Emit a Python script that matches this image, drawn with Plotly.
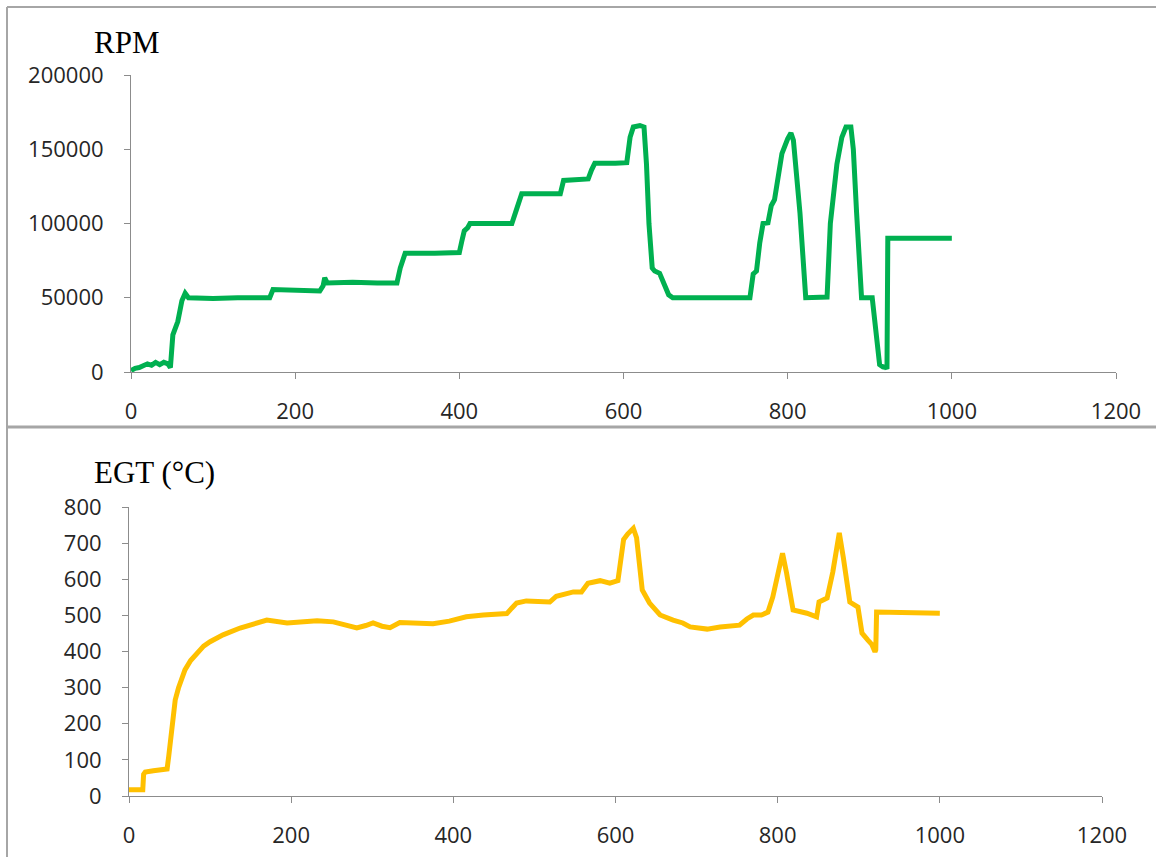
import plotly.graph_objects as go

# ---- data ----
rpm_time = [0, 5, 10, 15, 20, 25, 30, 35, 40, 45, 48, 51, 54, 57, 62, 66, 70, 100, 130, 169,
            173, 200, 230, 234, 236, 239, 270, 300, 324, 328, 334, 370, 400, 403, 406, 410, 413,
            440, 464, 470, 476, 500, 523, 527, 540, 557, 561, 565, 590, 604, 608, 612, 620, 625,
            628, 631, 635, 638, 644, 650, 655, 660, 700, 754, 758, 762, 766, 770, 776, 780, 784,
            788, 793, 800, 804, 807, 815, 822, 835, 848, 852, 856, 860, 866, 871, 877, 880, 884,
            890, 903, 905, 909, 912, 916, 920, 921, 922, 950, 980, 1000]
rpm_value = [1000, 2500, 3000, 4000, 5500, 4500, 6500, 5000, 6500, 5500, 3000, 25000, 31000, 34000,
             48000, 53000, 50000, 49500, 50000, 50000, 55500, 55000, 54500, 58000, 63500, 60000,
             60500, 60000, 60000, 70000, 80000, 80000, 80500, 88000, 95000, 97000, 100000, 100000,
             100000, 110000, 120000, 120000, 120000, 129000, 129500, 130000, 136000, 140500, 140500,
             141000, 158000, 165000, 166000, 165000, 140000, 100000, 70000, 68000, 66500, 58000,
             52000, 50000, 50000, 50000, 66000, 68000, 87000, 100000, 100500, 112000, 116000,
             131000, 147000, 157000, 161000, 156000, 107000, 50000, 50000, 50500, 100000, 118000,
             140000, 158000, 165000, 165000, 150000, 107000, 50000, 50000, 40000, 13000, 5000,
             3500, 3000, 2000, 90000, 90000, 90500, 90000]

egt_time = [0, 17, 18, 20, 30, 47, 49, 51, 55, 57, 61, 69, 76, 84, 92, 100, 116, 137, 158, 170,
            195, 215, 232, 252, 270, 281, 292, 301, 312, 322, 334, 355, 375, 395, 416, 437, 457,
            466, 472, 478, 490, 505, 519, 527, 548, 558, 566, 581, 593, 603, 607, 610, 615, 622,
            626, 630, 633, 642, 655, 671, 683, 692, 713, 729, 753, 762, 770, 780, 788, 794, 800,
            806, 811, 816, 819, 836, 848, 851, 861, 868, 876, 881, 885, 889, 899, 904, 911, 916,
            920, 921, 922, 950, 975, 1000]
egt_value = [17, 17, 60, 66, 70, 75, 110, 155, 240, 266, 299, 349, 375, 396, 415, 427, 446, 465,
             479, 487, 479, 483, 485, 482, 472, 465, 472, 479, 470, 466, 480, 478, 477, 484, 496,
             501, 504, 505, 520, 534, 540, 538, 537, 553, 565, 565, 589, 596, 589, 596, 650, 710,
             725, 741, 715, 640, 570, 534, 501, 487, 479, 468, 462, 468, 473, 490, 501, 501, 509,
             551, 610, 672, 617, 550, 515, 506, 496, 537, 548, 620, 728, 660, 590, 537, 523, 451,
             432, 420, 399, 405, 509, 507, 506, 506]

x_ticks = [0, 200, 400, 600, 800, 1000, 1200]
rpm_ticks = [0, 50000, 100000, 150000, 200000]
egt_ticks = [0, 100, 200, 300, 400, 500, 600, 700, 800]

W, H = 1156, 857
def px(x):
    return x / W
def py(y):
    return 1 - y / H

axis_col = "#8c8c8c"
tick_font = dict(family="Open Sans, Liberation Sans, sans-serif", size=22, color="#262626")
title_font = dict(family="Liberation Serif, Times New Roman, serif", size=31, color="#000000")

fig = go.Figure()
fig.add_trace(go.Scatter(x=rpm_time, y=rpm_value, mode="lines",
                         line=dict(color="#00B050", width=5), xaxis="x", yaxis="y",
                         showlegend=False, hoverinfo="skip"))
fig.add_trace(go.Scatter(x=egt_time, y=egt_value, mode="lines",
                         line=dict(color="#FFC000", width=5), xaxis="x2", yaxis="y2",
                         showlegend=False, hoverinfo="skip"))

common_x = dict(range=[0, 1200], tickvals=x_ticks, ticktext=[str(v) for v in x_ticks],
                showline=True, linecolor=axis_col, linewidth=1, ticks="outside", ticklen=6,
                tickcolor=axis_col, showgrid=False, zeroline=False, tickfont=tick_font,
                ticklabelstandoff=14, fixedrange=True, automargin=False)
common_y = dict(showline=True, linecolor=axis_col, linewidth=1, ticks="outside", ticklen=6,
                tickcolor=axis_col, showgrid=False, zeroline=False, tickfont=tick_font,
                ticklabelstandoff=16, fixedrange=True, automargin=False)

fig.update_layout(
    width=W, height=H,
    margin=dict(l=0, r=0, t=0, b=0, pad=0, autoexpand=False),
    paper_bgcolor="white", plot_bgcolor="white",
    xaxis=dict(domain=[px(131), px(1116)], anchor="y", **common_x),
    yaxis=dict(domain=[py(372), py(75)], anchor="x", range=[0, 200000],
               tickvals=rpm_ticks, ticktext=[str(v) for v in rpm_ticks], **common_y),
    xaxis2=dict(domain=[px(129), px(1102)], anchor="y2", **common_x),
    yaxis2=dict(domain=[py(796), py(507)], anchor="x2", range=[0, 800],
                tickvals=egt_ticks, ticktext=[str(v) for v in egt_ticks], **common_y),
    annotations=[
        dict(text="RPM", x=px(92), y=py(42), xref="paper", yref="paper",
             xanchor="left", yanchor="middle", showarrow=False, font=title_font),
        dict(text="EGT (°C)", x=px(92), y=py(472), xref="paper", yref="paper",
             xanchor="left", yanchor="middle", showarrow=False, font=title_font),
    ],
    shapes=[
        dict(type="line", xref="paper", yref="paper", x0=px(7), x1=1, y0=py(7), y1=py(7),
             line=dict(color="#a6a6a6", width=2)),
        dict(type="line", xref="paper", yref="paper", x0=px(7), x1=px(7), y0=py(7), y1=0,
             line=dict(color="#a6a6a6", width=2)),
        dict(type="line", xref="paper", yref="paper", x0=px(7), x1=1, y0=py(427), y1=py(427),
             line=dict(color="#a6a6a6", width=3)),
    ],
)

fig.write_html("out.html")
